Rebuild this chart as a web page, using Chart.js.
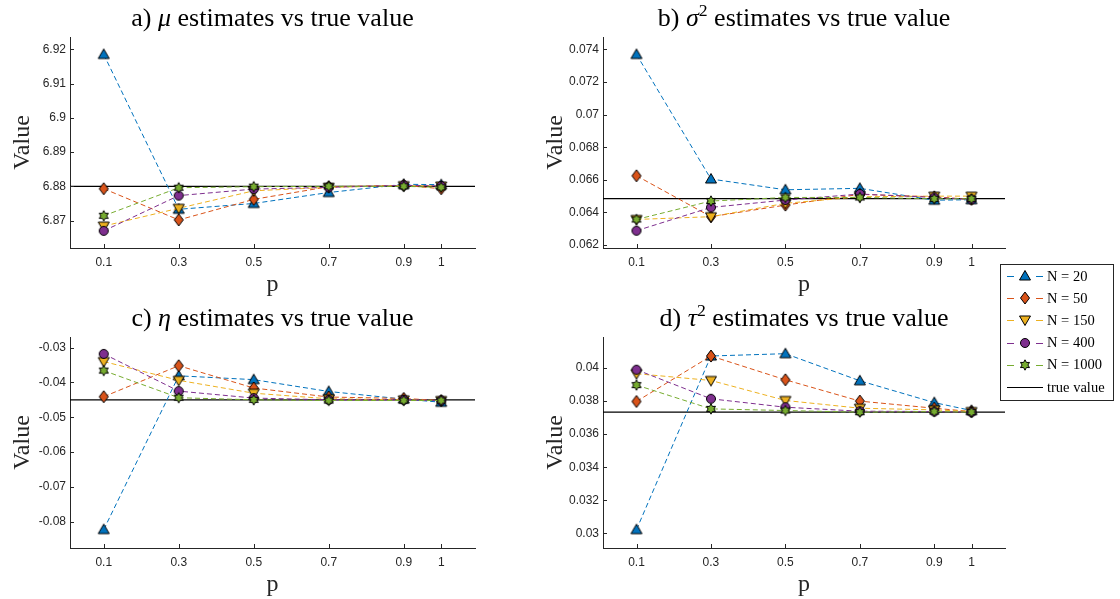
<!DOCTYPE html>
<html>
<head>
<meta charset="utf-8">
<script src="https://cdn.jsdelivr.net/npm/chart.js@4.4.0/dist/chart.umd.min.js"></script>
<style>
  html, body { margin: 0; padding: 0; background: #fff; }
  body { width: 1120px; height: 599px; position: relative; overflow: hidden; }
  canvas.panel { position: absolute; }
  #legend { position: absolute; left: 1000px; top: 264px; width: 114px; height: 137px;
            box-sizing: border-box; border: 1px solid #262626; background: #fff; }
  .row { position: absolute; left: 5px; height: 20px; display: flex; align-items: center; }
  .row canvas { display: block; }
  .row span { font: 14.5px "Liberation Serif", serif; color: #000; margin-left: 3px; white-space: nowrap; }
</style>
</head>
<body>
<canvas class="panel" id="chartMu" width="500" height="300" style="left:0;top:0"></canvas>
<canvas class="panel" id="chartSigma2" width="478" height="300" style="left:533px;top:0"></canvas>
<canvas class="panel" id="chartEta" width="500" height="300" style="left:0;top:300px"></canvas>
<canvas class="panel" id="chartTau2" width="478" height="300" style="left:533px;top:300px"></canvas>
<div id="legend"></div>
<script>
const pValues = [0.1, 0.3, 0.5, 0.7, 0.9, 1];
const seriesLabels = ['N = 20', 'N = 50', 'N = 150', 'N = 400', 'N = 1000'];
const seriesColors = ['#0072BD', '#D95319', '#EDB120', '#7E2F8E', '#77AC30'];
const markerKinds = ['up', 'diamond', 'down', 'circle', 'hexagram'];

// a) mu
const muEstimates = [
  [6.9185, 6.8733, 6.8750, 6.8782, 6.8806, 6.8805],
  [6.8793, 6.8702, 6.8762, 6.8799, 6.8803, 6.8793],
  [6.8684, 6.8736, 6.8787, 6.8797, 6.8802, 6.8801],
  [6.8670, 6.8773, 6.8792, 6.8797, 6.8803, 6.8801],
  [6.8714, 6.8796, 6.8799, 6.8800, 6.8800, 6.8797]
];
const muTrue = 6.88;
const muTicks = [6.87, 6.88, 6.89, 6.9, 6.91, 6.92];
const muRange = [6.862, 6.9236];

// b) sigma^2
const sigma2Estimates = [
  [0.07369, 0.06605, 0.06539, 0.06548, 0.06475, 0.06478],
  [0.06625, 0.06374, 0.06445, 0.06511, 0.06496, 0.06480],
  [0.06357, 0.06374, 0.06456, 0.06496, 0.06500, 0.06500],
  [0.06288, 0.06431, 0.06476, 0.06513, 0.06492, 0.06480],
  [0.06357, 0.06470, 0.06492, 0.06492, 0.06484, 0.06484]
];
const sigma2True = 0.06485;
const sigma2Ticks = [0.062, 0.064, 0.066, 0.068, 0.07, 0.072, 0.074];
const sigma2Range = [0.06182, 0.07476];

// c) eta
const etaEstimates = [
  [-0.0823, -0.0381, -0.0392, -0.0426, -0.0448, -0.0457],
  [-0.0441, -0.0352, -0.0416, -0.0442, -0.0446, -0.0452],
  [-0.0340, -0.0394, -0.0431, -0.0447, -0.0450, -0.0452],
  [-0.0318, -0.0425, -0.0445, -0.0450, -0.0450, -0.0452],
  [-0.0366, -0.0444, -0.0450, -0.0452, -0.0452, -0.0452]
];
const etaTrue = -0.045;
const etaTicks = [-0.08, -0.07, -0.06, -0.05, -0.04, -0.03];
const etaRange = [-0.0876, -0.02694];

// d) tau^2
const tau2Estimates = [
  [0.03022, 0.04073, 0.04087, 0.03923, 0.03791, 0.03743],
  [0.03798, 0.04073, 0.03929, 0.03800, 0.03757, 0.03737],
  [0.03966, 0.03925, 0.03804, 0.03757, 0.03747, 0.03737],
  [0.03990, 0.03814, 0.03763, 0.03739, 0.03737, 0.03733],
  [0.03897, 0.03753, 0.03743, 0.03733, 0.03737, 0.03733]
];
const tau2True = 0.03733;
const tau2Ticks = [0.03, 0.032, 0.034, 0.036, 0.038, 0.04];
const tau2Range = [0.02911, 0.04188];

const muTitle = [{ text: 'a) ' }, { text: 'μ', italic: true }, { text: ' estimates vs true value' }];
const sigma2Title = [{ text: 'b) ' }, { text: 'σ', italic: true }, { text: '2', sup: true }, { text: ' estimates vs true value' }];
const etaTitle = [{ text: 'c) ' }, { text: 'η', italic: true }, { text: ' estimates vs true value' }];
const tau2Title = [{ text: 'd) ' }, { text: 'τ', italic: true }, { text: '2', sup: true }, { text: ' estimates vs true value' }];

const AXIS_COLOR = '#262626';
const SERIF = '"Liberation Serif", serif';
const SANS = '"Liberation Sans", Arial, sans-serif';

function drawMarker(ctx, kind, cx, cy, fill) {
  ctx.save();
  ctx.fillStyle = fill;
  ctx.strokeStyle = '#000';
  ctx.lineWidth = 1;
  ctx.setLineDash([]);
  ctx.beginPath();
  if (kind === 'up') {
    ctx.moveTo(cx, cy - 5.5); ctx.lineTo(cx + 5.5, cy + 4); ctx.lineTo(cx - 5.5, cy + 4); ctx.closePath();
  } else if (kind === 'down') {
    ctx.moveTo(cx, cy + 5.5); ctx.lineTo(cx + 5.5, cy - 4); ctx.lineTo(cx - 5.5, cy - 4); ctx.closePath();
  } else if (kind === 'diamond') {
    ctx.moveTo(cx, cy - 6); ctx.lineTo(cx + 4.5, cy); ctx.lineTo(cx, cy + 6); ctx.lineTo(cx - 4.5, cy); ctx.closePath();
  } else if (kind === 'circle') {
    ctx.arc(cx, cy, 4.5, 0, Math.PI * 2);
  } else {
    for (let k = 0; k < 12; k++) {
      const r = k % 2 ? 2.9 : 5.2;
      const a = -Math.PI / 2 + k * Math.PI / 6;
      const px = cx + r * Math.cos(a), py = cy + r * Math.sin(a);
      if (k === 0) ctx.moveTo(px, py); else ctx.lineTo(px, py);
    }
    ctx.closePath();
  }
  ctx.fill();
  ctx.stroke();
  ctx.restore();
}

function markerImage(kind, fill) {
  const c = document.createElement('canvas');
  c.width = 16; c.height = 16;
  drawMarker(c.getContext('2d'), kind, 8, 8, fill);
  return c;
}

const panelTitle = {
  id: 'panelTitle',
  afterDraw(chart, args, opts) {
    const { ctx, chartArea: a } = chart;
    const size = 26;
    const fontFor = p => (p.italic ? 'italic ' : '') + (p.sup ? size * 0.68 : size) + 'px ' + SERIF;
    ctx.save();
    let total = 0;
    opts.parts.forEach(p => { ctx.font = fontFor(p); total += ctx.measureText(p.text).width; });
    let x = (a.left + a.right) / 2 - total / 2;
    ctx.fillStyle = '#000';
    ctx.textBaseline = 'alphabetic';
    opts.parts.forEach(p => {
      ctx.font = fontFor(p);
      ctx.fillText(p.text, x, p.sup ? 16 : 26);
      x += ctx.measureText(p.text).width;
    });
    ctx.restore();
  }
};

const trueLine = {
  id: 'trueLine',
  beforeDatasetsDraw(chart, args, opts) {
    const { ctx, chartArea: a, scales: { y } } = chart;
    const py = y.getPixelForValue(opts.value);
    ctx.save();
    ctx.strokeStyle = '#000';
    ctx.lineWidth = 1.2;
    ctx.beginPath();
    ctx.moveTo(a.left, py);
    ctx.lineTo(a.right, py);
    ctx.stroke();
    ctx.restore();
  }
};

const inwardTicks = {
  id: 'inwardTicks',
  afterDatasetsDraw(chart) {
    const { ctx, chartArea: a, scales: { x, y } } = chart;
    ctx.save();
    ctx.strokeStyle = AXIS_COLOR;
    ctx.lineWidth = 1;
    ctx.beginPath();
    x.ticks.forEach(t => {
      const px = Math.round(x.getPixelForValue(t.value)) + 0.5;
      ctx.moveTo(px, a.bottom); ctx.lineTo(px, a.bottom - 4);
    });
    y.ticks.forEach(t => {
      const py = Math.round(y.getPixelForValue(t.value)) + 0.5;
      ctx.moveTo(a.left, py); ctx.lineTo(a.left + 4, py);
    });
    ctx.stroke();
    ctx.restore();
  }
};

const fmt = v => String(+Number(v).toFixed(5));

function makePanel(canvasId, titleParts, estimates, trueValue, yTicks, yRange, padRight) {
  return new Chart(document.getElementById(canvasId), {
    type: 'line',
    data: {
      datasets: estimates.map((vals, i) => ({
        label: seriesLabels[i],
        data: vals.map((v, k) => ({ x: pValues[k], y: v })),
        borderColor: seriesColors[i],
        backgroundColor: seriesColors[i],
        borderWidth: 1,
        borderDash: [5, 3],
        pointStyle: markerImage(markerKinds[i], seriesColors[i]),
        pointRadius: 5,
        tension: 0,
        fill: false,
        order: estimates.length - 1 - i
      }))
    },
    options: {
      responsive: false,
      animation: false,
      events: [],
      layout: { padding: { top: 37, right: padRight, left: 0, bottom: 0 } },
      plugins: {
        legend: { display: false },
        tooltip: { enabled: false },
        panelTitle: { parts: titleParts },
        trueLine: { value: trueValue }
      },
      scales: {
        x: {
          type: 'linear',
          min: 0.01,
          max: 1.09,
          afterBuildTicks: s => { s.ticks = pValues.map(v => ({ value: v })); },
          afterFit: s => { s.height = 52; },
          grid: { display: false, drawTicks: false },
          border: { display: true, color: AXIS_COLOR, width: 1 },
          ticks: { padding: 7, color: AXIS_COLOR, font: { family: SANS, size: 12 }, callback: fmt, autoSkip: false, maxRotation: 0 },
          title: { display: true, text: 'p', color: AXIS_COLOR, font: { family: SERIF, size: 24 }, padding: { top: 0, bottom: 1 } }
        },
        y: {
          min: yRange[0],
          max: yRange[1],
          afterBuildTicks: s => { s.ticks = yTicks.map(v => ({ value: v })); },
          afterFit: s => { s.width = 70; },
          grid: { display: false, drawTicks: false },
          border: { display: true, color: AXIS_COLOR, width: 1 },
          ticks: { padding: 4, color: AXIS_COLOR, font: { family: SANS, size: 12 }, callback: fmt, autoSkip: false },
          title: { display: true, text: 'Value', color: AXIS_COLOR, font: { family: SERIF, size: 24 }, padding: { top: 8, bottom: 0 } }
        }
      }
    },
    plugins: [panelTitle, trueLine, inwardTicks]
  });
}

makePanel('chartMu', muTitle, muEstimates, muTrue, muTicks, muRange, 25);
makePanel('chartSigma2', sigma2Title, sigma2Estimates, sigma2True, sigma2Ticks, sigma2Range, 2);
makePanel('chartEta', etaTitle, etaEstimates, etaTrue, etaTicks, etaRange, 25);
makePanel('chartTau2', tau2Title, tau2Estimates, tau2True, tau2Ticks, tau2Range, 2);

// legend
const legend = document.getElementById('legend');
const legendRows = seriesLabels.map((label, i) => ({ label, color: seriesColors[i], kind: markerKinds[i] }));
legendRows.push({ label: 'true value', color: '#000', kind: null });
legendRows.forEach((r, i) => {
  const row = document.createElement('div');
  row.className = 'row';
  row.style.top = (1 + 22.2 * i) + 'px';
  const c = document.createElement('canvas');
  c.width = 38; c.height = 20;
  const ctx = c.getContext('2d');
  ctx.strokeStyle = r.color;
  ctx.lineWidth = 1;
  ctx.beginPath();
  if (r.kind) ctx.setLineDash([7, 22]);
  ctx.moveTo(1, 10.5); ctx.lineTo(37, 10.5);
  ctx.stroke();
  if (r.kind) drawMarker(ctx, r.kind, 19, 10, r.color);
  const span = document.createElement('span');
  span.textContent = r.label;
  row.appendChild(c);
  row.appendChild(span);
  legend.appendChild(row);
});
</script>
</body>
</html>
